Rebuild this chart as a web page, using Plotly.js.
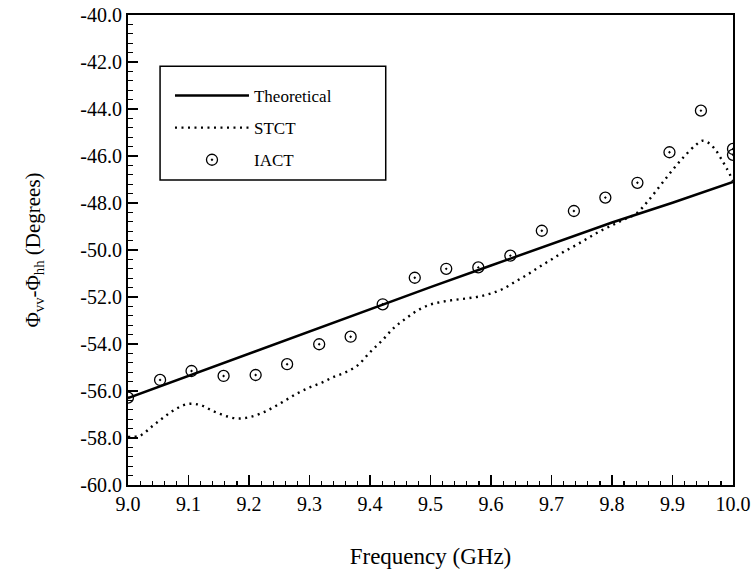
<!DOCTYPE html>
<html>
<head>
<meta charset="utf-8">
<script src="https://cdn.plot.ly/plotly-3.0.1.min.js"></script>
<style>html,body{margin:0;padding:0;background:#fff;}#chart{width:751px;height:574px;}</style>
</head>
<body>
<div id="chart"></div>
<script>
// Theoretical (solid)
var theoX = [9.0, 9.1, 9.2, 9.3, 9.4, 9.5, 9.6, 9.7, 9.8, 9.9, 10.0];
var theoY = [-56.30, -55.35, -54.40, -53.45, -52.50, -51.58, -50.66, -49.73, -48.83, -47.99, -47.10];

// STCT (dotted)
var stctX = [9.0, 9.02, 9.04, 9.06, 9.08, 9.10, 9.12, 9.14, 9.16, 9.18, 9.20, 9.22, 9.24, 9.26, 9.28, 9.30,
             9.32, 9.34, 9.36, 9.38, 9.40, 9.42, 9.44, 9.46, 9.48, 9.50, 9.52, 9.54, 9.56, 9.58, 9.60,
             9.62, 9.64, 9.66, 9.68, 9.70, 9.72, 9.74, 9.76, 9.78, 9.80, 9.82, 9.84, 9.86, 9.88, 9.90,
             9.92, 9.94, 9.95, 9.96, 9.97, 9.98, 9.99, 10.0];
var stctY = [-57.95, -57.90, -57.50, -57.10, -56.75, -56.55, -56.60, -56.85, -57.05, -57.17, -57.12, -56.95,
             -56.70, -56.40, -56.10, -55.85, -55.65, -55.40, -55.20, -54.90, -54.35, -53.85, -53.30, -52.90,
             -52.55, -52.32, -52.20, -52.12, -52.06, -51.98, -51.85, -51.65, -51.35, -51.05, -50.72, -50.40,
             -50.08, -49.80, -49.50, -49.20, -48.95, -48.70, -48.45, -47.90, -47.25, -46.60, -46.00, -45.50,
             -45.35, -45.45, -45.70, -46.10, -46.55, -47.05];

// IACT (circle-dot markers)
var iactX = [9.0, 9.053, 9.105, 9.158, 9.211, 9.263, 9.316, 9.368, 9.421, 9.474, 9.526, 9.579, 9.632,
             9.684, 9.737, 9.789, 9.842, 9.895, 9.947, 10.0, 10.0];
var iactY = [-56.28, -55.53, -55.15, -55.36, -55.32, -54.86, -54.01, -53.69, -52.31, -51.18, -50.80, -50.74,
             -50.24, -49.18, -48.34, -47.77, -47.14, -45.84, -44.07, -45.70, -45.95];

var yTickVals = [-60, -58, -56, -54, -52, -50, -48, -46, -44, -42, -40];
var yTickText = ["-60.0", "-58.0", "-56.0", "-54.0", "-52.0", "-50.0", "-48.0", "-46.0", "-44.0", "-42.0", "-40.0"];
var xTickVals = [9.0, 9.1, 9.2, 9.3, 9.4, 9.5, 9.6, 9.7, 9.8, 9.9, 10.0];
var xTickText = ["9.0", "9.1", "9.2", "9.3", "9.4", "9.5", "9.6", "9.7", "9.8", "9.9", "10.0"];

var FONT = "'Liberation Serif', 'Times New Roman', serif";

var traces = [
  {x: theoX, y: theoY, name: "Theoretical", mode: "lines", legendgroup: "a",
   line: {color: "#000", width: 2.5}},
  {x: stctX, y: stctY, name: "STCT", mode: "lines", legendgroup: "b",
   line: {shape: "spline", color: "#000", width: 2.4, dash: "2px,4.5px"}},
  {x: iactX, y: iactY, name: "IACT", mode: "markers", legendgroup: "c",
   marker: {symbol: "circle-open-dot", size: 11, color: "#000", line: {color: "#000", width: 1.3}}}
];

var layout = {
  width: 751, height: 574,
  margin: {l: 128, r: 18, t: 15, b: 89},
  paper_bgcolor: "#fff", plot_bgcolor: "#fff",
  font: {family: FONT, color: "#000", size: 17},
  showlegend: true,
  legend: {x: 0.0694, y: 0.866, xanchor: "left", yanchor: "top",
           bgcolor: "rgba(0,0,0,0)", borderwidth: 0,
           font: {family: FONT, size: 17, color: "#000"},
           tracegroupgap: 7, itemwidth: 74},
  shapes: [
    {type: "rect", xref: "paper", yref: "paper", x0: 0.053, x1: 0.426, y0: 0.649, y1: 0.891,
     line: {color: "#000", width: 1.5}, fillcolor: "rgba(0,0,0,0)"}
  ],
  xaxis: {
    range: [9.0, 10.0], tickmode: "array", tickvals: xTickVals, ticktext: xTickText,
    ticks: "inside", ticklen: 10, tickwidth: 1.5, tickcolor: "#000",
    minor: {dtick: 0.02, ticks: "inside", ticklen: 4, tickwidth: 1.2, tickcolor: "#000", showgrid: false},
    showline: true, linecolor: "#000", linewidth: 2, mirror: true,
    showgrid: false, zeroline: false,
    tickfont: {family: FONT, size: 20, color: "#000"},
    title: {text: "Frequency (GHz)", font: {family: FONT, size: 23, color: "#000"}, standoff: 34}
  },
  yaxis: {
    range: [-60, -40], tickmode: "array", tickvals: yTickVals, ticktext: yTickText,
    ticks: "inside", ticklen: 10, tickwidth: 1.5, tickcolor: "#000",
    minor: {dtick: 0.4, ticks: "inside", ticklen: 5, tickwidth: 1.2, tickcolor: "#000", showgrid: false},
    showline: true, linecolor: "#000", linewidth: 2, mirror: true,
    showgrid: false, zeroline: false,
    tickfont: {family: FONT, size: 20, color: "#000"},
    title: {text: "Φ<sub>vv</sub>-Φ<sub>hh</sub> (Degrees)", font: {family: FONT, size: 21, color: "#000"}, standoff: 34}
  }
};

Plotly.newPlot("chart", traces, layout, {staticPlot: true, displayModeBar: false});
</script>
</body>
</html>
